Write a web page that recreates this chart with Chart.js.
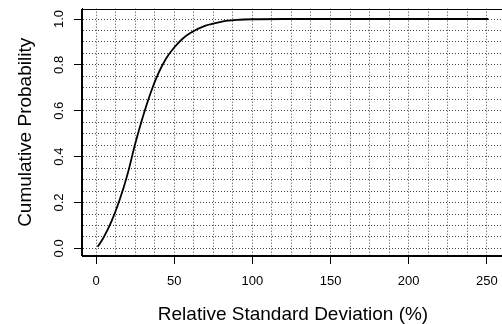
<!DOCTYPE html>
<html>
<head>
<meta charset="utf-8">
<script src="https://cdn.jsdelivr.net/npm/chart.js@4"></script>
<style>
  html, body { margin: 0; padding: 0; background: #fff; overflow: hidden; }
</style>
</head>
<body>
<canvas id="cdf" width="520" height="324"></canvas>
<script>
// values
var rsd = [1, 5, 10, 15, 20, 25, 30, 35, 40, 45, 50, 55, 60, 70, 80, 90, 100, 120, 150, 200, 251];
var cumProb = [0.007, 0.05, 0.12, 0.21, 0.32, 0.455, 0.575, 0.68, 0.765, 0.83, 0.876, 0.912, 0.938, 0.971, 0.988, 0.996, 0.999, 1.0, 1.0, 1.0, 1.0];

var xTicks = [0, 50, 100, 150, 200, 250];
var xTickLabels = ['0', '50', '100', '150', '200', '250'];
var yTicks = [0, 0.2, 0.4, 0.6, 0.8, 1.0];
var yTickLabels = ['0.0', '0.2', '0.4', '0.6', '0.8', '1.0'];

// dotted grid steps
var xGridStep = 12.5;
var yGridStep = 0.05;

var points = rsd.map(function (v, i) { return { x: v, y: cumProb[i] }; });

function gridValues(from, to, step) {
    var out = [];
    var n = Math.round((to - from) / step);
    for (var i = 0; i <= n; i++) out.push(Math.round((from + i * step) * 1000) / 1000);
    return out;
}

function labelFor(ticks, labels, v) {
    for (var i = 0; i < ticks.length; i++) {
        if (Math.abs(ticks[i] - v) < 1e-6) return labels[i];
    }
    return '';
}

var boxPlugin = {
    id: 'box',
    afterDraw: function (chart) {
        var a = chart.chartArea, c = chart.ctx;
        c.save();
        c.strokeStyle = '#000';
        c.lineWidth = 1;
        c.strokeRect(Math.round(a.left) - 0.5, Math.round(a.top) + 0.5,
            Math.round(a.right - a.left) + 1, Math.round(a.bottom - a.top) - 1);
        c.restore();
    }
};

var font = 'Liberation Sans, Arial, Helvetica, sans-serif';

var ctx = document.getElementById('cdf').getContext('2d');
var myChart = new Chart(ctx, {
    type: 'line',
    data: {
        datasets: [{
            data: points,
            borderColor: '#000',
            borderWidth: 1.8,
            pointRadius: 0,
            fill: false,
            cubicInterpolationMode: 'monotone'
        }]
    },
    options: {
        responsive: false,
        animation: false,
        events: [],
        layout: { padding: { left: 0, right: 16, top: 8.7, bottom: 0 } },
        plugins: {
            legend: { display: false },
            tooltip: { enabled: false }
        },
        scales: {
            x: {
                type: 'linear',
                min: -9,
                max: 261,
                afterBuildTicks: function (scale) {
                    scale.ticks = gridValues(0, 250, xGridStep).map(function (v) { return { value: v }; });
                },
                afterFit: function (scale) {
                    scale.height = 68;
                    scale.paddingLeft = 0;
                    scale.paddingRight = 0;
                },
                grid: {
                    color: '#444',
                    lineWidth: 1,
                    tickLength: 8,
                    tickWidth: 1,
                    tickColor: function (c) {
                        return labelFor(xTicks, xTickLabels, c.tick.value) !== '' ? '#000' : 'rgba(0,0,0,0)';
                    }
                },
                border: { display: true, color: '#000', width: 1, dash: [1, 2] },
                ticks: {
                    autoSkip: false,
                    maxRotation: 0,
                    padding: 10,
                    color: '#000',
                    font: { family: font, size: 13 },
                    callback: function (v) { return labelFor(xTicks, xTickLabels, v); }
                },
                title: {
                    display: true,
                    text: 'Relative Standard Deviation (%)',
                    color: '#000',
                    font: { family: font, size: 19, lineHeight: 1 },
                    padding: { top: 0, bottom: 0 }
                }
            },
            y: {
                type: 'linear',
                min: -0.033,
                max: 1.045,
                afterBuildTicks: function (scale) {
                    scale.ticks = gridValues(0, 1, yGridStep).map(function (v) { return { value: v }; });
                },
                afterFit: function (scale) {
                    scale.width = 82;
                    scale.paddingTop = 0;
                    scale.paddingBottom = 0;
                },
                grid: {
                    color: '#444',
                    lineWidth: 1,
                    tickLength: 8,
                    tickWidth: 1,
                    tickColor: function (c) {
                        return labelFor(yTicks, yTickLabels, c.tick.value) !== '' ? '#000' : 'rgba(0,0,0,0)';
                    }
                },
                border: { display: true, color: '#000', width: 1, dash: [1, 2] },
                ticks: {
                    autoSkip: false,
                    minRotation: 90,
                    maxRotation: 90,
                    crossAlign: 'center',
                    padding: 6,
                    color: '#000',
                    font: { family: font, size: 13 },
                    callback: function (v) { return labelFor(yTicks, yTickLabels, v); }
                },
                title: {
                    display: true,
                    text: 'Cumulative Probability',
                    color: '#000',
                    font: { family: font, size: 19, lineHeight: 1 },
                    padding: { top: 16, bottom: 0 }
                }
            }
        }
    },
    plugins: [boxPlugin]
});
</script>
</body>
</html>
